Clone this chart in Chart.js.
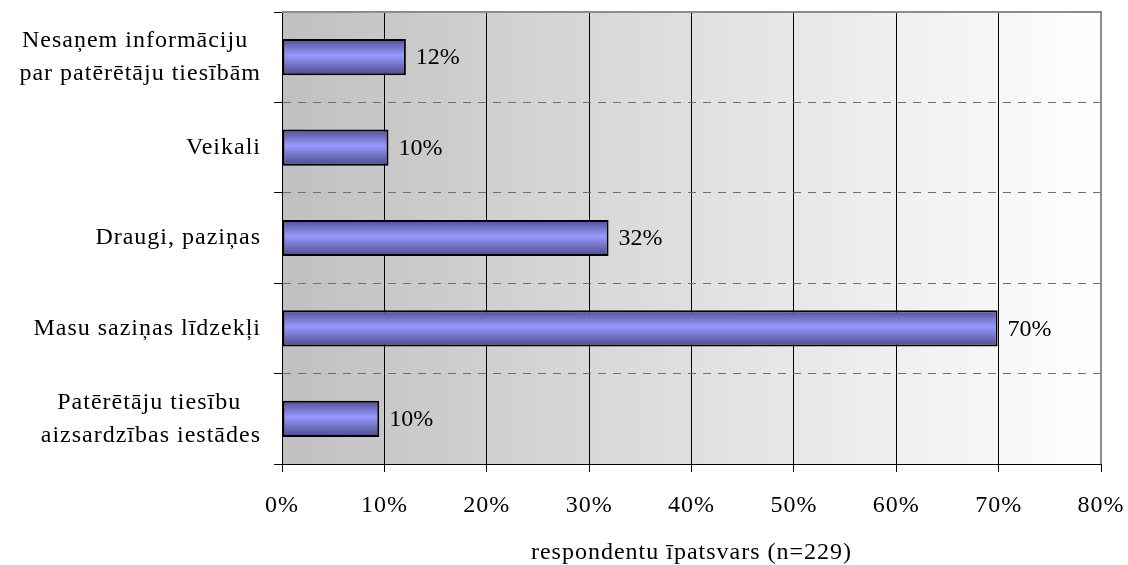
<!DOCTYPE html>
<html>
<head>
<meta charset="utf-8">
<script src="https://cdn.jsdelivr.net/npm/chart.js@4"></script>
<style>
  html, body { margin: 0; padding: 0; background: #fff; }
  #wrap { width: 1128px; height: 565px; }
</style>
</head>
<body>
<div id="wrap"><canvas id="chart" width="1128" height="565"></canvas></div>
<script>
// padding spaces mimic Excel's centred multi-line labels
const NB = '\u00A0';
const categories = [
  ['Nesaņem informāciju' + NB + '\u2009', 'par patērētāju tiesībām'],
  'Veikali',
  'Draugi, paziņas',
  'Masu saziņas līdzekļi',
  ['Patērētāju tiesību' + NB + NB + '\u2009', 'aizsardzības iestādes']
];
const shares = [12.1, 10.4, 31.9, 69.9, 9.5];
const xTicks = [0, 10, 20, 30, 40, 50, 60, 70, 80];
const xTitle = 'respondentu īpatsvars (n=229)';

const FONT = 'Liberation Serif, Times New Roman, serif';

const plotBg = {
  id: 'plotBg',
  // canvas resize wipes context state, so set spacing right before measuring and drawing
  beforeLayout(chart) {
    chart.ctx.letterSpacing = '1px';
  },
  beforeDraw(chart) {
    const { ctx, chartArea: a } = chart;
    ctx.letterSpacing = '1px';
    const g = ctx.createLinearGradient(a.left, 0, a.right, 0);
    g.addColorStop(0, '#c0c0c0');
    g.addColorStop(1, '#ffffff');
    ctx.save();
    ctx.fillStyle = g;
    ctx.fillRect(a.left, a.top, a.right - a.left, a.bottom - a.top);
    ctx.restore();
  },
  afterDatasetsDraw(chart) {
    const { ctx, chartArea: a } = chart;
    ctx.save();
    // top and right frame
    ctx.strokeStyle = '#8c8c8c';
    ctx.lineWidth = 2;
    ctx.beginPath();
    ctx.moveTo(a.left, a.top);
    ctx.lineTo(a.right, a.top);
    ctx.lineTo(a.right, a.bottom);
    ctx.stroke();
    // value labels
    ctx.letterSpacing = '0px';
    ctx.fillStyle = '#000';
    ctx.font = '24px ' + FONT;
    ctx.textBaseline = 'middle';
    ctx.textAlign = 'left';
    chart.getDatasetMeta(0).data.forEach((bar, i) => {
      ctx.fillText(Math.round(shares[i]) + '%', bar.x + 10, bar.y + 1);
    });
    ctx.restore();
  }
};

function barFill(c) {
  const chart = c.chart;
  if (!chart.chartArea) return '#9999ff';
  const y = chart.scales.y.getPixelForValue(c.dataIndex);
  const g = chart.ctx.createLinearGradient(0, y - 18, 0, y + 18);
  g.addColorStop(0, '#4f4f8f');
  g.addColorStop(0.45, '#9999ff');
  g.addColorStop(1, '#4a4a86');
  return g;
}

new Chart(document.getElementById('chart'), {
  type: 'bar',
  data: {
    labels: categories,
    datasets: [{
      data: shares,
      backgroundColor: barFill,
      borderColor: '#000',
      borderWidth: 2,
      borderSkipped: false,
      barPercentage: 0.4,
      categoryPercentage: 1
    }]
  },
  plugins: [plotBg],
  options: {
    indexAxis: 'y',
    responsive: false,
    animation: false,
    layout: { padding: { top: 12, right: 27, left: 0, bottom: 0 } },
    plugins: { legend: { display: false }, tooltip: { enabled: false } },
    scales: {
      x: {
        min: 0,
        max: 80,
        afterBuildTicks(scale) { scale.ticks = xTicks.map(v => ({ value: v })); },
        afterFit(scale) {
          scale.height = 101;
          scale.paddingLeft = 0;
          scale.paddingRight = 0;
        },
        grid: {
          color: c => c.index === xTicks.length - 1 ? 'rgba(0,0,0,0)' : '#000',
          lineWidth: 1,
          tickColor: '#000',
          tickLength: 8
        },
        border: { color: '#000', width: 1 },
        ticks: {
          color: '#000',
          font: { family: FONT, size: 24 },
          padding: 19,
          callback: v => v + '%'
        },
        title: {
          display: true,
          text: xTitle,
          color: '#000',
          font: { family: FONT, size: 24, lineHeight: 1.0 },
          padding: { top: 0, bottom: 0 }
        }
      },
      y: {
        afterFit(scale) {
          scale.width = 282;
          scale.paddingTop = 0;
          scale.paddingBottom = 0;
        },
        grid: {
          offset: true,
          color: c => (c.index === 0 || c.index === categories.length) ? 'rgba(0,0,0,0)' : '#6e6e6e',
          lineWidth: 1,
          tickColor: '#000',
          tickLength: 8,
          tickBorderDash: []
        },
        border: { color: '#000', width: 1, dash: [8, 7] },
        ticks: {
          color: '#000',
          font: { family: FONT, size: 24, lineHeight: 1.375 },
          padding: 13
        }
      }
    }
  }
});
</script>
</body>
</html>
